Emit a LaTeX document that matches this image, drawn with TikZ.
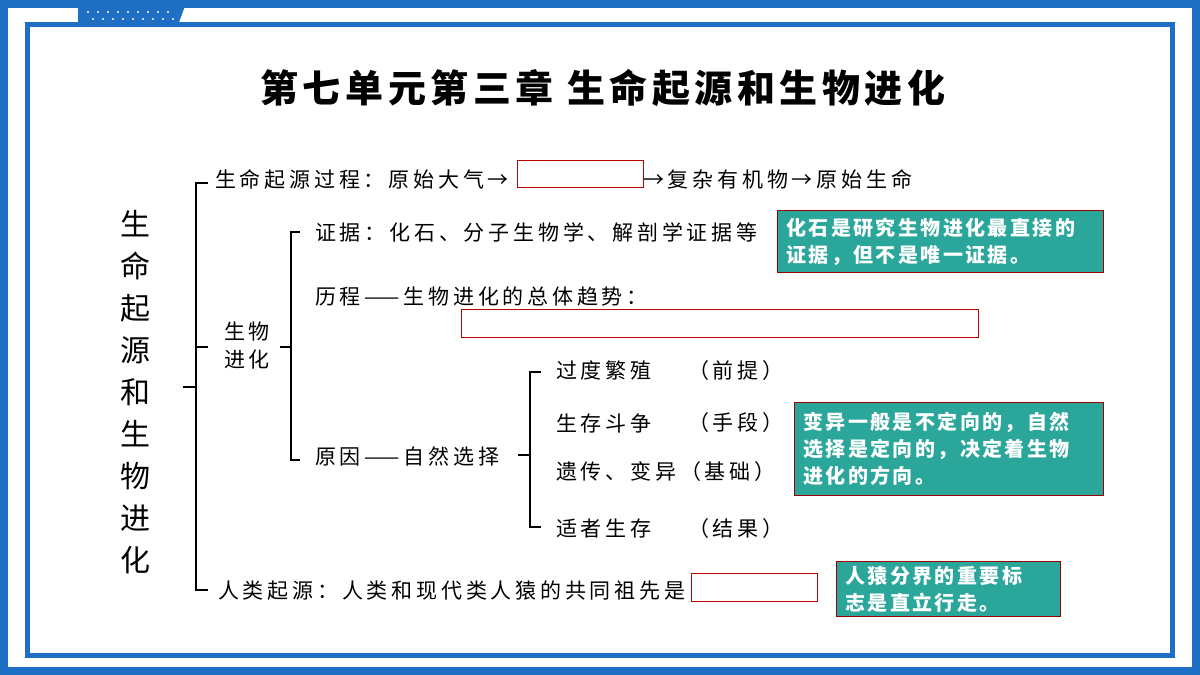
\documentclass[tikz,border=0pt]{standalone}
\usepackage{fontspec}
\setmainfont{Noto Sans CJK SC}
\newfontfamily\spf[LetterSpace=18]{Noto Sans CJK SC}
\newfontfamily\spn[LetterSpace=12]{Noto Sans CJK SC}
\newfontfamily\spt[LetterSpace=12]{Noto Sans CJK SC}
\begin{document}
\begin{tikzpicture}[x=1pt,y=-1pt,
  txt/.style={anchor=west,inner sep=0pt,font=\spf\fontsize{21}{24}\selectfont},
  blank/.style={draw=red!75!black,line width=0.8pt,fill=white},
  note/.style={draw=red!60!black,line width=0.8pt,fill=teal1,text=white,anchor=north west,inner xsep=9pt,inner ysep=5pt,align=left,font=\spn\fontsize{20}{27}\selectfont\bfseries},
  brk/.style={line width=1.2pt,black}]
\definecolor{blue1}{HTML}{1F6FC5}
\definecolor{teal1}{HTML}{2AA69A}
\useasboundingbox (0,0) rectangle (1200,675);
\fill[white] (0,0) rectangle (1200,675);
% frame
\draw[blue1,line width=8pt] (4,4) rectangle (1196,671);
\draw[blue1,line width=5pt] (27,24) rectangle (1172,655);
\fill[blue1] (78,6) -- (185,6) -- (178,25) -- (78,25) -- cycle;
\foreach \i in {0,...,8}{\fill[white] (88+\i*10,12) circle (1.2); \fill[white] (93+\i*10,19) circle (1.2);}
% title
\node[font=\spt\fontsize{38}{42}\selectfont\bfseries] (title) at (603,88) {第七单元第三章\ 生命起源和生物进化};
% vertical
\node[align=center,font=\fontsize{30}{42}\selectfont] (vert) at (135,392) {生\\命\\起\\源\\和\\生\\物\\进\\化};
% main bracket
\coordinate (b1t) at (196,183); \coordinate (b1b) at (196,590);
\draw[brk] (208,183) -- (b1t) -- (b1b) -- (208,590);
\draw[brk] (183,387) -- (196,387);
\draw[brk] (196,347) -- (208,347);
% line 1
\node[txt] (l1a) at (215,179) {生命起源过程：原始大气→};
\node[blank,minimum width=126pt,minimum height=27pt,anchor=west] (r1) at (517,174) {};
\node[txt] (l1b) at (643,179) {→复杂有机物→原始生命};
% 生物进化
\node[align=center,font=\spf\fontsize{21}{28}\selectfont] (swjh) at (247,346) {生物\\进化};
\draw[brk] (300,232) -- (291,232) -- (291,460) -- (300,460);
\draw[brk] (280,347) -- (291,347);
\node[txt] (zj) at (315,232) {证据：化石、分子生物学、解剖学证据等};
\node[note,text width=308pt,minimum height=62pt] (n1) at (777,210) {化石是研究生物进化最直接的\\证据，但不是唯一证据。};
\node[txt] (lc) at (315,296) {历程——生物进化的总体趋势：};
\node[blank,minimum width=517pt,minimum height=28pt,anchor=north west] (r2) at (461,309) {};
\node[txt] (yy) at (315,456) {原因——自然选择};
\draw[brk] (541,372) -- (530,372) -- (530,527) -- (541,527);
\draw[brk] (518,455) -- (530,455);
\node[txt] (i1) at (556,371) {过度繁殖};
\node[txt] (p1) at (688,371) {（前提）};
\node[txt] (i2) at (556,423) {生存斗争};
\node[txt] (p2) at (688,423) {（手段）};
\node[txt] (i3) at (556,472) {遗传、变异（基础）};
\node[txt] (i4) at (556,529) {适者生存};
\node[txt] (p4) at (688,529) {（结果）};
\node[note,text width=291pt,minimum height=93pt] (n2) at (794,402) {变异一般是不定向的，自然\\选择是定向的，决定着生物\\进化的方向。};
\node[txt] (rl) at (218,591) {人类起源：人类和现代类人猿的共同祖先是};
\node[blank,minimum width=126pt,minimum height=28pt,anchor=north west] (r3) at (691,573) {};
\node[note,text width=206pt,minimum height=55pt,inner ysep=2pt] (n3) at (836,561) {人猿分界的重要标\\志是直立行走。};
\end{tikzpicture}
\end{document}
